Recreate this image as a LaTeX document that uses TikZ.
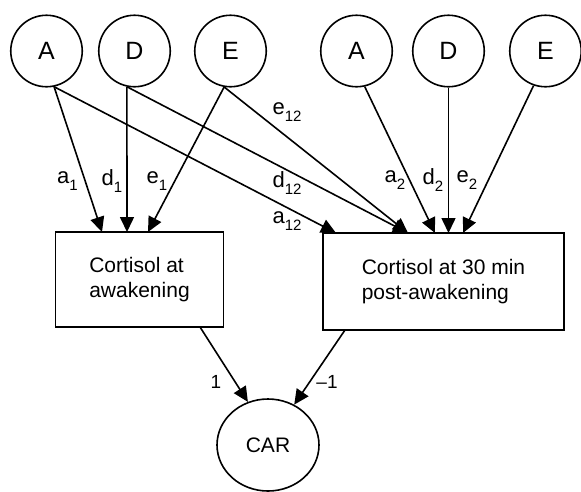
\documentclass[tikz,border=0pt]{standalone}
\usepackage{fontspec}
\setmainfont{Liberation Sans}
\usetikzlibrary{arrows.meta,shapes.geometric}
\newcommand\sbx[1]{\raisebox{-0.28em}{\fontsize{15}{15}\selectfont #1}}
\begin{document}
\begin{tikzpicture}[x=1pt,y=-1pt,
  lat/.style={circle,draw,line width=1.6pt,minimum size=71.5pt,inner sep=0pt,font=\fontsize{25}{29}\selectfont},
  obs/.style={rectangle,draw,line width=1.6pt,inner sep=0pt,align=left,font=\fontsize{21}{25}\selectfont},
  carst/.style={ellipse,draw,line width=1.6pt,minimum width=102pt,minimum height=92pt,inner sep=0pt,font=\fontsize{21}{25}\selectfont},
  edgearrow/.style={line width=1.6pt,-{Triangle[length=15pt,width=14pt]}},
  lbl/.style={inner sep=0pt,font=\fontsize{22}{26}\selectfont}]
\useasboundingbox (0,0) rectangle (581,491);
% latent circles
\node[lat] (A1) at (46.5,51) {A};
\node[lat] (D1) at (134.5,51) {D};
\node[lat] (E1) at (230.5,51) {E};
\node[lat] (A2) at (356.5,51) {A};
\node[lat] (D2) at (448.5,51) {D};
\node[lat] (E2) at (545.5,51) {E};
% observed boxes
\node[obs,minimum width=168pt,minimum height=95pt] (B1) at (139.5,279.5) {Cortisol at\\awakening};
\node[obs,minimum width=241pt,minimum height=97pt] (B2) at (443.5,281.5) {Cortisol at 30 min\\post-awakening};
\node[carst] (CAR) at (268,445) {CAR};
% target points on box tops
\coordinate (t1a) at (102,232);
\coordinate (t1d) at (127,232);
\coordinate (t1e) at (148,232);
\coordinate (t2x) at (336,233);
\coordinate (t2y) at (408,233);
\coordinate (t2a) at (435,233);
\coordinate (t2d) at (448.5,233);
\coordinate (t2e) at (463,233);
\coordinate (b1o) at (200,327);
\coordinate (b2o) at (345,330);
% arrows
\draw[edgearrow] (A1.282) -- (t1a);
\draw[edgearrow] (D1.258) -- (t1d);
\draw[edgearrow] (E1.260) -- (t1e);
\draw[edgearrow] (A1.282) -- (t2x);
\draw[edgearrow] (D1.258) -- (t2y);
\draw[edgearrow] (E1.260) -- (t2y);
\draw[edgearrow] (A2.283) -- (t2a);
\draw[edgearrow] (D2.270) -- (t2d);
\draw[edgearrow] (E2.251) -- (t2e);
\draw[edgearrow] (b1o) -- (CAR.115);
\draw[edgearrow] (b2o) -- (CAR.57);
% labels
\node[lbl] (la1) at (67.5,181) {a\sbx{1}};
\node[lbl] (ld1) at (112,181) {d\sbx{1}};
\node[lbl] (le1) at (157,181) {e\sbx{1}};
\node[lbl] (le12) at (287,112) {e\sbx{12}};
\node[lbl] (ld12) at (287,183) {d\sbx{12}};
\node[lbl] (la12) at (287,221) {a\sbx{12}};
\node[lbl] (la2) at (395,180) {a\sbx{2}};
\node[lbl] (ld2) at (433,180) {d\sbx{2}};
\node[lbl] (le2) at (467,180) {e\sbx{2}};
\node[lbl,font=\fontsize{19}{22}\selectfont] (lone) at (216,382) {1};
\node[lbl,font=\fontsize{19}{22}\selectfont] (lmone) at (327,382) {–1};
\end{tikzpicture}
\end{document}
